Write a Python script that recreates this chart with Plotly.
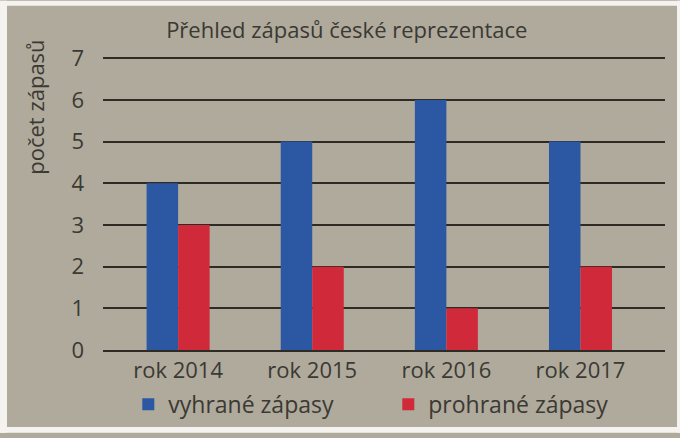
import plotly.graph_objects as go

categories = ["rok 2014", "rok 2015", "rok 2016", "rok 2017"]
won = [4, 5, 6, 5]
lost = [3, 2, 1, 2]
y_ticks = [0, 1, 2, 3, 4, 5, 6, 7]

BLUE = "#2b57a3"
RED = "#d02a3a"
BG = "#afaa9b"
TXT = "#3b3934"
GRID = "#2e2b25"
FONT = "Open Sans"

fig = go.Figure()
fig.add_trace(go.Bar(x=categories, y=won, name="vyhrané zápasy", marker_color=BLUE,
                     marker_line_width=0, showlegend=False))
fig.add_trace(go.Bar(x=categories, y=lost, name="prohrané zápasy", marker_color=RED,
                     marker_line_width=0, showlegend=False))
# legend proxies with larger squares
fig.add_trace(go.Scatter(x=[None], y=[None], mode="markers", name="vyhrané zápasy",
                         marker=dict(symbol="square", size=19, color=BLUE)))
fig.add_trace(go.Scatter(x=[None], y=[None], mode="markers", name="prohrané zápasy",
                         marker=dict(symbol="square", size=19, color=RED)))

W, H = 680, 438
L, R, T, B = 103, 15, 57, 84
pw, ph = W - L - R, H - T - B
def px(x):
    return (x - L) / pw
def py(y):
    return (H - B - y) / ph

border = dict(type="rect", xref="paper", yref="paper", line_width=0, fillcolor="#f4f3ef", layer="above")
shapes = [
    dict(border, x0=px(0), x1=px(W), y0=py(5), y1=py(0)),
    dict(border, x0=px(0), x1=px(7), y0=py(H), y1=py(0)),
    dict(border, x0=px(W - 3), x1=px(W), y0=py(H), y1=py(0)),
    dict(border, x0=px(0), x1=px(W), y0=py(H), y1=py(H - 6)),
]

fig.update_layout(
    width=W, height=H,
    margin=dict(l=L, r=R, t=T, b=B),
    paper_bgcolor=BG, plot_bgcolor=BG,
    font=dict(family=FONT, size=22, color=TXT),
    barmode="group", bargap=0.53, bargroupgap=0,
    title=dict(text="Přehled zápasů české reprezentace", x=0.51, xanchor="center",
               y=0.93, yanchor="middle", font=dict(size=22, color=TXT)),
    legend=dict(orientation="h", x=0.045, xanchor="left", y=py(409), yanchor="middle",
                font=dict(size=23, color=TXT), bgcolor="rgba(0,0,0,0)",
                entrywidth=215, itemsizing="constant", itemwidth=30,
                borderwidth=0, tracegroupgap=0),
    xaxis=dict(type="category", range=[-0.56, 3.63], showgrid=False, zeroline=False,
               showline=True, linecolor=GRID, linewidth=2, ticks="",
               tickfont=dict(size=22, color=TXT)),
    yaxis=dict(range=[0, 7.03], tickvals=y_ticks, showgrid=True, gridcolor=GRID,
               gridwidth=2, zeroline=False, showline=False, ticks="",
               ticklabelstandoff=18, tickfont=dict(size=22, color=TXT)),
    shapes=shapes,
    annotations=[
        dict(text="počet zápasů", textangle=-90, xref="paper", yref="paper",
             x=px(35), y=py(38), xanchor="center", yanchor="top", showarrow=False,
             font=dict(size=22, color=TXT)),
    ],
)

fig.write_html("out.html")
